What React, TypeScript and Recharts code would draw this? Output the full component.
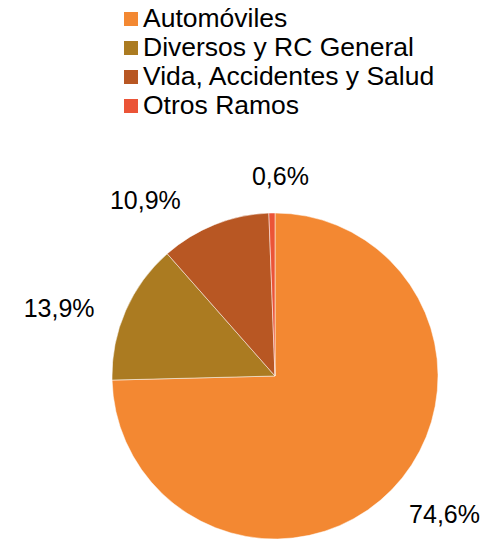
import { PieChart, Pie, Cell } from "recharts";

const categories = [
  "Automóviles",
  "Diversos y RC General",
  "Vida, Accidentes y Salud",
  "Otros Ramos",
];
const shares = [74.6, 13.9, 10.9, 0.6];
const colors = ["#F38832", "#AB7B21", "#B85723", "#EB5437"];

const data = categories.map((name, i) => ({ name, value: shares[i] }));

const W = 486;
const H = 539;
const FONT = "'Liberation Sans', Arial, sans-serif";
const FS = 25;
const RADIAN = Math.PI / 180;

const fmt = (v: number) => v.toFixed(1).replace(".", ",") + "%";

// rough Arial widths, in em
const textWidth = (s: string) =>
  s.split("").reduce((w, c) => w + (c === "," ? 0.278 : c === "%" ? 0.889 : 0.556), 0) * FS;

// label directions, degrees clockwise from 12 o'clock (slice mid angles),
// turned a little and spread apart where neighbours would crowd each other
const LABEL_TURN = -6;
const MIN_GAP = 38;
const labelAngles = (() => {
  const total = shares.reduce((a, b) => a + b, 0);
  let cum = 0;
  const a = shares.map((v) => {
    const m = ((cum + v / 2) / total) * 360 + LABEL_TURN;
    cum += v;
    return m;
  });
  for (let i = 0; i < a.length - 1; i++) {
    const gap = a[i + 1] - a[i];
    if (gap < MIN_GAP) {
      const push = (MIN_GAP - gap) / 2;
      a[i] -= push;
      a[i + 1] += push;
    }
  }
  return a;
})();

function renderLabel(props: any) {
  const { cx, cy, outerRadius, value, index } = props;
  const text = fmt(value);
  const ang = labelAngles[index] * RADIAN;
  const dx = Math.sin(ang);
  const dy = -Math.cos(ang);
  const hw = textWidth(text) / 2;
  const hh = 9;
  const d = outerRadius + 27 + Math.abs(dx) * hw + Math.abs(dy) * hh;
  let x = cx + dx * d;
  let y = cy + dy * d;
  // keep labels inside the chart box
  y = Math.min(y, H - 12 - hh);
  x = Math.min(x, W - 6 - hw);
  return (
    <text
      key={`lbl-${index}`}
      x={x}
      y={y}
      textAnchor="middle"
      dominantBaseline="central"
      fill="#000"
      fontSize={FS}
      fontFamily={FONT}
    >
      {text}
    </text>
  );
}

function LegendBox() {
  return (
    <div
      style={{
        position: "absolute",
        left: 124,
        top: 4.5,
        fontFamily: FONT,
        fontSize: 26.5,
        color: "#000",
      }}
    >
      {categories.map((c, i) => (
        <div
          key={c}
          style={{ display: "flex", alignItems: "center", height: 28.9, whiteSpace: "nowrap" }}
        >
          <span
            style={{
              width: 14,
              height: 14,
              background: colors[i],
              marginRight: 5,
              flexShrink: 0,
            }}
          />
          <span>{c}</span>
        </div>
      ))}
    </div>
  );
}

export default function App() {
  return (
    <div style={{ position: "absolute", left: 0, top: 0, width: W, height: H, background: "#fff" }}>
      <PieChart width={W} height={H} margin={{ top: 0, right: 0, bottom: 0, left: 0 }}>
        <Pie
          data={data}
          dataKey="value"
          nameKey="name"
          cx={275}
          cy={376}
          outerRadius={163}
          startAngle={90}
          endAngle={-270}
          stroke="#fff"
          strokeWidth={0.5}
          label={renderLabel}
          labelLine={false}
          isAnimationActive={false}
        >
          {data.map((d, i) => (
            <Cell key={d.name} fill={colors[i]} />
          ))}
        </Pie>
      </PieChart>
      <LegendBox />
    </div>
  );
}
